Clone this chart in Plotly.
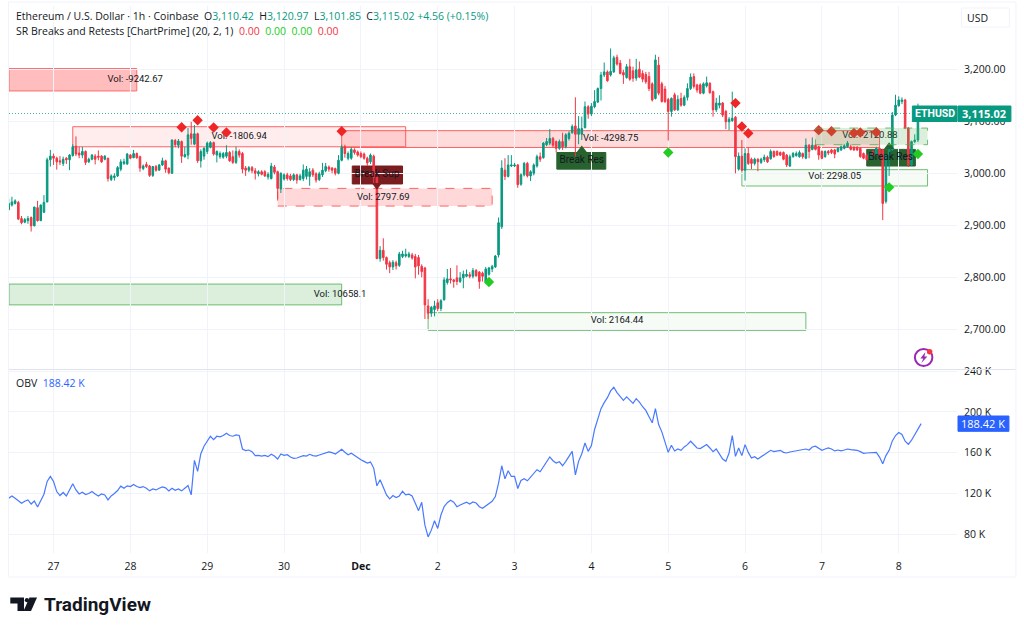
import plotly.graph_objects as go
import pandas as pd

start_hour = "2025-11-26 10:00"
opens = [2930,2939,2942,2944,2913,2906,2909,2915,2899,2934,
2909,2925,2945,3026,3033,3029,3024,3019,3029,3026,
3034,3052,3039,3035,3042,3022,3027,3033,3033,3033,
3027,3029,2988,2992,2995,3008,3019,3018,3035,3030,
3038,3032,3009,3017,3014,2996,3013,3006,3016,3024,
3010,3000,3063,3054,3061,3032,3035,3076,3056,3076,
3024,3033,3042,3050,3059,3035,3032,3031,3033,3040,
3032,3021,3042,3038,3010,3006,3011,3005,2999,3003,
3003,2993,2990,3012,3003,2970,2989,2997,2995,2988,
2997,2988,2990,2994,2994,3006,2999,2988,2997,3005,
3012,3010,3009,3000,3025,3051,3029,3029,3045,3041,
3038,3037,3029,3022,3033,2992,2836,2852,2838,2828,
2820,2828,2823,2840,2841,2840,2843,2840,2838,2821,
2818,2745,2731,2738,2751,2740,2757,2790,2797,2795,
2799,2792,2799,2802,2805,2802,2813,2810,2808,2792,
2806,2816,2820,2843,2897,3006,2994,3014,3014,3016,
2979,2997,3019,2995,3000,3014,3032,3030,3055,3058,
3067,3061,3048,3061,3051,3067,3078,3091,3075,3075,
3088,3128,3114,3128,3137,3163,3189,3195,3189,3195,
3223,3212,3194,3184,3205,3197,3183,3200,3192,3190,
3186,3172,3144,3208,3172,3162,3142,3119,3151,3122,
3144,3131,3146,3163,3186,3170,3170,3154,3168,3173,
3157,3122,3131,3135,3119,3099,3101,3108,3008,3033,
3006,3038,3027,3019,3027,3021,3026,3031,3028,3042,
3042,3040,3040,3035,3014,3032,3034,3032,3038,3029,
3054,3046,3054,3051,3042,3032,3042,3045,3045,3042,
3045,3048,3051,3051,3050,3050,3048,3038,3035,3029,
3042,3035,3048,3045,2946,3035,3045,3112,3130,3138,
3141,3087,3016,3061,3064,3110.42]
highs = [2951,2955,2950,2947,2918,2914,2918,2917,2936,2947,
2940,2958,3030,3045,3038,3032,3033,3032,3031,3037,
3056,3071,3051,3051,3044,3030,3037,3037,3044,3035,
3035,3030,2998,3000,3014,3027,3028,3039,3037,3045,
3040,3034,3017,3022,3016,3014,3016,3018,3030,3026,
3011,3065,3066,3066,3063,3051,3087,3099,3093,3078,
3046,3050,3061,3062,3061,3044,3042,3041,3054,3043,
3044,3051,3046,3041,3014,3014,3014,3010,3006,3006,
3006,3002,3020,3016,3005,3002,3000,3001,2999,3000,
2999,2999,3017,3014,3010,3010,3002,3003,3020,3020,
3015,3012,3011,3035,3055,3055,3042,3050,3048,3044,
3042,3040,3032,3038,3036,2994,2860,2875,2840,2832,
2833,2832,2849,2851,2855,2849,2847,2845,2843,2825,
2820,2758,2745,2755,2758,2758,2800,2816,2818,2797,
2823,2810,2813,2815,2810,2818,2816,2812,2811,2820,
2820,2824,2843,2915,3025,3029,3035,3035,3020,3018,
3000,3022,3022,3006,3019,3036,3040,3060,3068,3085,
3070,3063,3065,3078,3077,3081,3094,3146,3110,3109,
3138,3131,3135,3160,3165,3195,3213,3198,3240,3226,
3228,3218,3199,3210,3220,3205,3220,3215,3198,3195,
3195,3175,3228,3224,3176,3168,3145,3146,3155,3150,
3155,3150,3173,3192,3192,3172,3173,3175,3186,3175,
3159,3145,3150,3137,3122,3108,3157,3110,3040,3064,
3048,3050,3030,3030,3029,3030,3036,3034,3046,3044,
3044,3042,3042,3037,3036,3041,3042,3044,3040,3067,
3056,3069,3056,3053,3044,3044,3045,3047,3047,3050,
3053,3056,3062,3055,3052,3052,3050,3040,3037,3041,
3044,3051,3050,3047,3035,3048,3118,3151,3148,3146,
3143,3089,3063,3075,3134,3120.97]
lows = [2929,2936,2940,2910,2902,2904,2903,2888,2898,2907,
2908,2924,2944,3013,3016,3007,3016,3014,3018,3006,
3032,3033,3029,3029,3016,3020,3025,3017,3025,3020,
3025,2984,2985,2986,2993,3004,3016,3016,3027,3029,
3028,3003,3006,3010,2993,2993,3003,3005,3014,3001,
2998,2999,3050,3048,3020,3030,3027,3055,3054,3020,
3011,3026,3037,3048,3034,3021,3028,3028,3029,3022,
3018,3018,3030,3000,2995,3002,3000,2988,2994,2996,
2993,2988,2988,2998,2950,2962,2986,2986,2985,2985,
2980,2986,2985,2988,2976,2993,2982,2985,2993,3002,
3003,3000,2996,2998,3023,3030,3025,3026,3036,3032,
3029,3026,3014,3018,2980,2835,2830,2832,2815,2808,
2814,2815,2820,2837,2838,2837,2834,2798,2805,2800,
2720,2720,2724,2725,2735,2735,2755,2786,2788,2780,
2785,2789,2779,2800,2798,2798,2801,2778,2792,2788,
2803,2810,2818,2838,2893,2987,2992,3012,3012,2972,
2976,2994,2992,2985,2996,3011,3022,3028,3052,3054,
3050,3040,3045,3045,3048,3063,3076,3032,3056,3064,
3086,3105,3110,3125,3135,3140,3185,3176,3186,3193,
3207,3190,3172,3182,3178,3176,3178,3183,3175,3172,
3158,3138,3142,3150,3136,3135,3063,3109,3120,3120,
3128,3129,3140,3160,3163,3155,3152,3152,3165,3153,
3109,3118,3125,3108,3085,3083,3099,3000,3005,3004,
2986,3016,3008,3015,3004,3018,3022,3020,3026,3030,
3033,3033,3025,3012,3012,3030,3032,3030,3028,3027,
3029,3044,3044,3026,3027,3030,3035,3037,3029,3040,
3043,3046,3049,3044,3043,3043,3030,3027,3024,3027,
3033,3033,3033,2910,2942,2995,3043,3110,3128,3133,
3085,3012,3014,3058,3060,3101.85]
closes = [2942,2945,2947,2912,2905,2911,2913,2899,2935,2909,
2939,2944,3026,3033,3029,3022,3022,3027,3026,3035,
3051,3037,3035,3042,3021,3027,3035,3027,3031,3022,
3033,2990,2995,2995,3011,3022,3022,3037,3029,3038,
3030,3010,3014,3013,2996,3013,3006,3016,3024,3008,
3001,3064,3055,3062,3033,3036,3074,3067,3076,3024,
3042,3048,3058,3059,3037,3042,3038,3038,3040,3024,
3021,3042,3035,3008,3006,3011,3005,3000,3003,2998,
2995,2998,3014,3002,2971,3000,2997,2990,2988,2997,
2987,2995,3006,3008,3003,2997,2987,2999,3006,3013,
3008,3006,3000,3025,3050,3038,3038,3046,3040,3035,
3032,3029,3020,3035,2992,2836,2852,2838,2825,2820,
2829,2822,2845,2845,2844,2845,2837,2820,2822,2811,
2747,2731,2742,2745,2740,2755,2795,2797,2795,2792,
2792,2799,2806,2806,2802,2813,2803,2792,2802,2816,
2818,2821,2841,2905,3010,2994,3016,3016,3016,2978,
2997,3019,2995,3003,3016,3032,3027,3058,3061,3067,
3054,3048,3061,3051,3074,3077,3090,3075,3086,3086,
3128,3114,3129,3138,3163,3189,3195,3178,3196,3222,
3210,3192,3189,3205,3181,3183,3199,3185,3181,3176,
3163,3141,3218,3154,3138,3138,3119,3144,3122,3142,
3131,3146,3163,3185,3167,3160,3154,3172,3174,3155,
3122,3135,3135,3112,3099,3104,3106,3032,3033,3006,
3038,3019,3019,3027,3022,3027,3031,3022,3042,3032,
3035,3035,3027,3016,3032,3038,3038,3040,3032,3054,
3042,3054,3046,3035,3029,3042,3039,3040,3037,3048,
3051,3053,3058,3046,3045,3045,3032,3029,3026,3038,
3035,3048,3035,2942,3035,3045,3112,3131,3141,3141,
3087,3016,3061,3064,3104,3115.02]
obv_k = [115.3,117.6,115.3,113.0,110.4,112.4,113.7,109.7,112.7,106.8,113.7,119.3,131.8,136.7,
131.8,121.9,118.0,121.0,117.6,123.5,129.5,123.5,119.6,121.2,119.0,120.0,121.9,119.6,117.6,119.6,118.6,113.7,117.6,120.0,122.9,127.2,125.2,127.5,
126.8,128.8,126.8,125.8,126.8,125.2,122.6,124.5,123.5,125.2,126.5,125.5,122.6,125.2,123.2,124.5,122.6,125.2,127.8,118.6,152.5,141.6,159.0,166.3,
171.2,176.1,172.8,176.1,175.5,176.8,179.1,176.8,176.1,177.4,176.8,163.6,162.0,162.6,161.0,157.1,157.4,156.7,157.4,156.1,158.4,156.7,153.8,158.7,
157.4,158.0,155.7,154.4,154.8,156.1,157.1,156.7,158.4,157.1,156.7,157.7,158.7,160.0,160.7,160.0,158.7,161.0,163.3,160.4,158.0,159.4,157.1,155.7,
153.1,151.5,149.8,150.8,144.9,127.5,133.4,126.2,118.6,114.7,118.0,116.0,117.6,122.2,118.6,119.3,117.6,110.4,103.2,111.4,89.0,77.5,84.1,93.3,
85.8,98.9,107.1,111.0,113.4,111.4,107.1,108.8,110.1,111.4,109.7,111.7,110.7,107.1,105.5,107.8,110.4,112.4,117.0,130.1,147.2,134.4,142.3,136.7,
136.7,124.9,132.7,134.4,132.4,136.0,140.0,143.3,141.3,145.9,151.5,155.8,152.1,149.8,151.1,147.2,151.5,156.4,161.3,138.3,151.5,159.0,169.5,161.3,
166.9,182.7,194.2,203.1,209.0,213.9,220.5,224.1,218.8,214.9,211.3,214.6,211.6,208.3,212.9,209.6,205.0,201.4,195.2,189.3,203.1,187.6,180.4,170.2,
160.3,167.2,161.7,163.6,162.3,165.6,167.9,171.2,167.9,164.6,164.0,166.3,167.9,164.6,161.0,163.6,158.0,153.8,151.5,159.7,176.8,156.4,164.6,157.1,
167.9,160.3,154.8,156.1,153.8,155.8,158.0,159.7,162.3,161.0,162.0,162.3,160.3,159.7,160.7,161.3,162.0,162.0,163.0,163.6,162.6,165.6,166.3,164.3,
162.3,163.6,164.6,163.6,161.7,162.6,161.7,162.6,163.6,163.0,162.6,162.3,161.0,159.4,159.7,159.7,159.7,160.3,155.7,149.2,157.1,162.3,171.5,176.8,179.7,177.8,171.2,168.2,172.2,177.8,184.3,188.42]
assert len(opens)==len(highs)==len(lows)==len(closes)==len(obv_k)==286, (len(opens),len(highs),len(lows),len(closes),len(obv_k))

price_ticks = [2700,2800,2900,3000,3100,3200]
obv_ticks = [80,120,160,200,240]
obv_tick_labels = ["80 K","120 K","160 K","200 K","240 K"]
day_ticks = ["2025-11-27","2025-11-28","2025-11-29","2025-11-30","2025-12-01","2025-12-02","2025-12-03","2025-12-04","2025-12-05","2025-12-06","2025-12-07","2025-12-08"]
day_labels = ["27","28","29","30","<b>Dec</b>","2","3","4","5","6","7","8"]

red_t = ["2025-11-28 16:00","2025-11-28 21:00","2025-11-29 02:00","2025-11-29 06:00","2025-11-30 18:00","2025-12-05 21:00","2025-12-05 23:00","2025-12-06 01:00","2025-12-06 23:00","2025-12-07 03:00","2025-12-07 10:00","2025-12-07 12:00","2025-12-07 17:00"]
red_p = [3088.5,3102,3088,3078.5,3081,3135,3090,3077,3083,3081,3077.5,3078.5,3079]
green_t = ["2025-12-02 16:00","2025-12-05 00:00","2025-12-07 21:00","2025-12-08 06:00"]
green_p = [2791,3040,2973,3037]

zone_names = ["Vol: -9242.67","Vol: -1806.94","Vol: -4298.75","Vol: 2797.69","Vol: 10658.1","Vol: 2164.44","Vol: 2298.05","Vol: -2120.88"]
zone_label_t = ["2025-11-28 01:30","2025-11-29 10:00","2025-12-04 06:00","2025-12-01 07:00","2025-11-30 17:30","2025-12-04 08:00","2025-12-07 04:00","2025-12-07 15:00"]
zone_label_p = [3180,3071,3066,2954,2766,2716,2993,3072]
zone_t0 = ["2025-11-26 10:05","2025-11-27 06:00","2025-11-30 18:00","2025-11-29 22:00","2025-11-26 10:05","2025-12-01 21:00","2025-12-05 23:00","2025-12-06 22:00"]
zone_t1 = ["2025-11-28 02:00","2025-12-01 14:00","2025-12-07 18:00","2025-12-02 17:00","2025-11-30 18:00","2025-12-06 19:00","2025-12-08 09:00","2025-12-08 09:00"]
zone_top = [3201.5,3089.6,3082,2971,2787,2732,3007,3087]
zone_bot = [3158.3,3051,3049.6,2937,2747,2698,2975.6,3055]
zone_fill = ["rgba(255,82,82,.38)","rgba(255,82,82,.10)","rgba(255,82,82,.20)","rgba(255,82,82,.22)","rgba(76,175,80,.20)","rgba(76,175,80,.05)","rgba(76,175,80,.05)","rgba(76,175,80,.20)"]
zone_line = ["rgba(255,82,82,.8)","rgba(255,82,82,.9)","rgba(255,82,82,.9)","rgba(255,82,82,.9)","rgba(76,175,80,.8)","rgba(76,175,80,.8)","rgba(76,175,80,.8)","rgba(76,175,80,.8)"]
zone_dash = ["solid","solid","solid","dash","solid","solid","solid","dash"]
zone_layer = ["below"]*7+["above"]

break_names = ["Break Sup","Break Res","Break Res"]
break_t0 = ["2025-11-30 21:18","2025-12-03 13:12","2025-12-07 14:00"]
break_t1 = ["2025-12-01 13:00","2025-12-04 04:30","2025-12-08 05:12"]
break_top = [3014,3040,3046]
break_bot = [2979.5,3008,3014]
break_col = ["#7b1c1f","#27622f","#27622f"]
break_label_t = ["2025-12-01 05:00","2025-12-03 21:00","2025-12-07 21:30"]
break_label_p = [2997,3024,3030]
pointer_t = ["2025-12-01 05:00","2025-12-03 21:00","2025-12-07 21:00"]
pointer_p = [2977,3045,3051]
pointer_sym = ["triangle-down","triangle-up","triangle-up"]
pointer_col = ["#7b1c1f","#27622f","#27622f"]

times = pd.date_range(start_hour, periods=len(closes), freq="h")
TEAL, RED, GRID = "#089981", "#f23645", "#f0f3fa"
FONT = "Open Sans"
TOP, BOT, LEFT, RIGHT = 6, 553, 9, 956.6
H = BOT-TOP; W = RIGHT-LEFT
def px(x): return (x-LEFT)/W
def py(y): return (BOT-y)/H

fig = go.Figure()
# text under the candles
fig.add_trace(go.Scatter(x=zone_label_t, y=zone_label_p, mode="text", text=zone_names,
    textfont=dict(family="Roboto", size=9.5, color="#131722"), xaxis="x", yaxis="y", hoverinfo="skip", showlegend=False))
fig.add_trace(go.Scatter(x=break_label_t, y=break_label_p, mode="text", text=break_names,
    textfont=dict(family="Roboto", size=10, color="#131722"), xaxis="x", yaxis="y", hoverinfo="skip", showlegend=False))
fig.add_trace(go.Scatter(x=pointer_t, y=pointer_p, mode="markers",
    marker=dict(symbol=pointer_sym, size=9, color=pointer_col), xaxis="x", yaxis="y", hoverinfo="skip", showlegend=False))
fig.add_trace(go.Candlestick(x=times, open=opens, high=highs, low=lows, close=closes,
    increasing=dict(line=dict(color=TEAL, width=1), fillcolor=TEAL),
    decreasing=dict(line=dict(color=RED, width=1), fillcolor=RED),
    whiskerwidth=0, xaxis="x", yaxis="y", hoverinfo="skip", showlegend=False))
fig.add_trace(go.Scatter(x=red_t, y=red_p, mode="markers",
    marker=dict(symbol="diamond", size=8, color="#f02525"), xaxis="x", yaxis="y", hoverinfo="skip", showlegend=False))
fig.add_trace(go.Scatter(x=green_t, y=green_p, mode="markers",
    marker=dict(symbol="diamond", size=8, color="#22cc22"), xaxis="x", yaxis="y", hoverinfo="skip", showlegend=False))
fig.add_trace(go.Scatter(x=times, y=obv_k, mode="lines", line=dict(color="#2962ff", width=1.2),
    xaxis="x2", yaxis="y2", hoverinfo="skip", showlegend=False, opacity=.85))

shapes = []
for t0,t1,a,b,f,l,d,lay in zip(zone_t0,zone_t1,zone_top,zone_bot,zone_fill,zone_line,zone_dash,zone_layer):
    shapes.append(dict(type="rect",xref="x",yref="y",x0=t0,x1=t1,y0=b,y1=a,fillcolor=f,layer=lay,line=dict(color=l,width=1,dash=d)))
for t0,t1,a,b,c in zip(break_t0,break_t1,break_top,break_bot,break_col):
    shapes.append(dict(type="rect",xref="x",yref="y",x0=t0,x1=t1,y0=b,y1=a,fillcolor=c,layer="below",line=dict(color=c,width=1)))
shapes.append(dict(type="line",xref="paper",yref="y",x0=0,x1=1,y0=closes[-1],y1=closes[-1],layer="below",line=dict(color="rgba(8,153,129,.75)",width=1,dash="1px,2px")))
BORDER="#e0e3eb"
def pline(x0,y0,x1,y1,c=BORDER,w=1):
    shapes.append(dict(type="line",xref="paper",yref="paper",x0=px(x0),x1=px(x1),y0=py(y0),y1=py(y1),line=dict(color=c,width=w)))
pline(8.5,369.5,1015.5,369.5)
pline(8.5,577,1015.5,577,"#f0f3fa")
pline(8.5,2,1015.5,2,"#f0f3fa")
pline(8.5,2,8.5,577,"#f0f3fa")
pline(1015.5,2,1015.5,577,"#f0f3fa")
def prect(x0,y0,x1,y1,fill,line=None):
    shapes.append(dict(type="rect",xref="paper",yref="paper",x0=px(x0),x1=px(x1),y0=py(y0),y1=py(y1),fillcolor=fill,line=dict(color=line or fill,width=1)))
prect(961,8,1009,27,"white","#f0f3fa")
prect(912,106,956.6,121.5,TEAL)
prect(957.6,106,1010.5,121.5,TEAL)
prect(957.6,416,1008.5,431.3,"#2962ff")
# purple badge
shapes.append(dict(type="circle",xref="paper",yref="paper",x0=px(914.5),x1=px(932),y0=py(366),y1=py(349),fillcolor="white",line=dict(color="#9c27b0",width=2)))
def ppath(pts):
    return "M "+" L ".join(f"{px(a):.5f},{py(b):.5f}" for a,b in pts)+" Z"
shapes.append(dict(type="path",xref="paper",yref="paper",path=ppath([(925,352),(920,358.5),(923,358.5),(921,363),(927,356.5),(924,356.5)]),fillcolor="#9c27b0",line=dict(width=0)))
shapes.append(dict(type="circle",xref="paper",yref="paper",x0=px(926.5),x1=px(932),y0=py(354.5),y1=py(349),fillcolor="#f23645",line=dict(width=0)))
# logo
shapes.append(dict(type="path",xref="paper",yref="paper",path=ppath([(10.3,597.5),(24,597.5),(24,611),(17.5,611),(17.5,603.5),(10.3,603.5)]),fillcolor="#131722",line=dict(width=0)))
shapes.append(dict(type="circle",xref="paper",yref="paper",x0=px(24.8),x1=px(29),y0=py(602.3),y1=py(598),fillcolor="#131722",line=dict(width=0)))
shapes.append(dict(type="path",xref="paper",yref="paper",path=ppath([(29.5,597.5),(37,597.5),(31,611),(23.5,611)]),fillcolor="#131722",line=dict(width=0)))

def note(x,y,text,size=11,color="#131722",anchor="left",family=FONT):
    return dict(xref="paper",yref="paper",x=px(x),y=py(y),text=text,showarrow=False,xanchor=anchor,yanchor="middle",
                font=dict(family=family,size=size,color=color),xshift=0,yshift=0)
def g(t): return f'<span style="color:{TEAL}">{t}</span>'
ann = [
 note(14,16,"Ethereum / U.S. Dollar · 1h · Coinbase  O"+g("3,110.42")+"  H"+g("3,120.97")+"  L"+g("3,101.85")+"  C"+g("3,115.02")+" "+g("+4.56 (+0.15%)"),size=10.5),
 note(14,31,'SR Breaks and Retests [ChartPrime] (20, 2, 1)  <span style="color:#f23645">0.00</span>  <span style="color:#22cc22">0.00</span>  <span style="color:#22cc22">0.00</span>  <span style="color:#f23645">0.00</span>',size=10.5),
 note(14,383,'OBV  <span style="color:#2962ff">188.42 K</span>',size=10.5),
 note(977,17.5,"USD",size=10.5,anchor="center"),
 note(934.5,113.8,"<b>ETHUSD</b>",size=10.5,color="white",anchor="center",family="Roboto"),
 note(984,113.8,"<b>3,115.02</b>",size=11,color="white",anchor="center"),
 note(983,423.7,"188.42 K",size=11,color="white",anchor="center"),
 note(42,604.5,"<b>TradingView</b>",size=19,family="Roboto"),
]

tick_font = dict(family=FONT,size=10.5,color="#131722")
fig.update_layout(
    width=1024,height=631,autosize=False,paper_bgcolor="white",plot_bgcolor="white",
    margin=dict(l=LEFT,r=1024-RIGHT,t=TOP,b=631-BOT,autoexpand=False),showlegend=False,hovermode=False,
    shapes=shapes,annotations=ann,
    xaxis=dict(domain=[0,1],anchor="y",range=["2025-11-26 10:05","2025-12-08 18:12"],tickvals=day_ticks,ticktext=[""]*len(day_ticks),
               showgrid=True,gridcolor=GRID,gridwidth=1,zeroline=False,rangeslider=dict(visible=False),ticks="",showticklabels=False),
    xaxis2=dict(domain=[0,1],anchor="y2",matches="x",tickvals=day_ticks,ticktext=day_labels,showgrid=True,gridcolor=GRID,gridwidth=1,
                zeroline=False,ticks="",tickfont=tick_font,ticklabelstandoff=5),
    yaxis=dict(domain=[py(369),1],anchor="x",side="right",range=[2623.7,3321.7],tickvals=price_ticks,tickformat=",.2f",
               showgrid=True,gridcolor=GRID,gridwidth=1,zeroline=False,ticks="",tickfont=tick_font,ticklabelstandoff=6),
    yaxis2=dict(domain=[0,py(370)],anchor="x2",side="right",range=[61.7,241],tickvals=obv_ticks,ticktext=obv_tick_labels,
                showgrid=True,gridcolor=GRID,gridwidth=1,zeroline=False,ticks="",tickfont=tick_font,ticklabelstandoff=6),
)
fig.write_html("out.html",config={"displayModeBar":False},post_script="document.body.style.margin='0';")
